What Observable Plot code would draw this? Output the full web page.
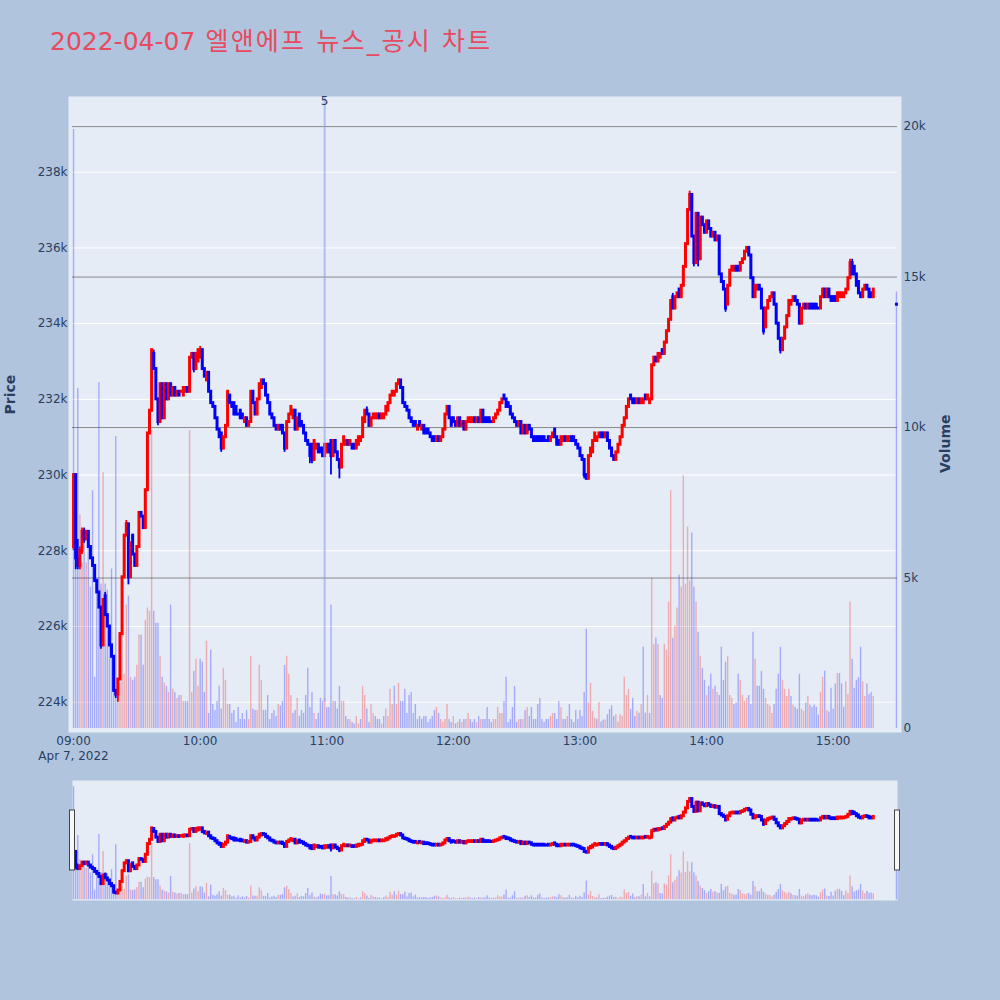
<!DOCTYPE html>
<html><head><meta charset="utf-8">
<script src="https://cdn.jsdelivr.net/npm/d3@7"></script>
<script src="https://cdn.jsdelivr.net/npm/@observablehq/plot@0.6"></script>
<style>
html,body{margin:0;padding:0;background:#b0c4de;}
#wrap{position:relative;width:1000px;height:1000px;overflow:hidden;font-family:"DejaVu Sans","Noto Sans CJK KR",sans-serif;}
#wrap .layer{position:absolute;left:0;top:0;}
#title{position:absolute;left:50px;top:29px;font-size:25px;line-height:1;color:#e84a5f;white-space:nowrap;}
#title .ko{letter-spacing:2.2px;}
</style></head><body><div id="wrap"><div id="title"></div></div>
<script>
const titleDate = "2022-04-07";
const titleText = " 엘앤에프 뉴스_공시 차트";
const tradeDay = [2022, 3, 7];           // year, month index, day
const dateLabel = "Apr 7, 2022";
const firstMinute = "09:00";             // one candle per minute from here
const closingAuction = "15:30";          // last candle
const hourTicks = ["09:00","10:00","11:00","12:00","13:00","14:00","15:00"];
const priceTicks = [224,226,228,230,232,234,236,238];   // k won
const volumeTicks = [0,5,10,15,20];                      // k shares
const priceDomain = [223.2, 240.0];
const volumeDomain = [-0.133, 21.0];
const news = [{time: "10:59", label: "5"}];

// prices in thousand won
const open = [
228.1,230.0,227.8,227.6,228.0,228.5,228.3,228.5,228.1,227.8,
227.6,227.2,226.9,226.5,225.5,226.8,226.3,226.0,225.5,225.2,
224.3,224.2,224.6,225.8,227.3,228.4,228.7,227.3,228.4,227.9,
227.6,228.1,229.0,228.9,228.6,229.6,231.1,231.7,233.2,232.8,
232.0,231.4,232.4,231.5,232.4,232.0,232.4,232.1,232.3,232.1,
232.2,232.2,232.1,232.2,232.3,232.2,233.1,233.2,232.8,233.0,
233.1,233.3,232.8,232.5,232.7,232.2,231.9,231.8,231.5,231.2,
231.1,230.7,231.0,231.3,232.1,231.9,231.9,231.8,231.6,231.7,
231.6,231.4,231.5,231.3,231.4,232.2,231.9,231.6,232.0,232.3,
232.5,232.4,232.1,231.9,231.6,231.5,231.3,231.2,231.3,231.3,
231.1,230.7,231.4,231.6,231.5,231.7,231.2,231.6,231.4,231.3,
231.1,230.9,230.8,230.8,230.4,230.7,230.8,230.7,230.7,230.5,
230.6,230.8,230.9,230.5,230.9,230.6,230.4,230.2,230.8,230.8,
230.9,230.8,230.8,230.8,230.7,230.8,230.9,231.0,231.4,231.7,
231.6,231.3,231.5,231.5,231.5,231.6,231.5,231.5,231.6,231.7,
231.9,232.1,232.1,232.2,232.4,232.5,232.3,231.9,231.8,231.7,
231.5,231.4,231.4,231.2,231.4,231.2,231.3,231.2,231.2,231.1,
231.0,231.0,230.9,231.0,230.9,231.0,231.2,231.6,231.8,231.5,
231.5,231.4,231.3,231.5,231.3,231.4,231.2,231.4,231.4,231.4,
231.5,231.4,231.5,231.4,231.7,231.5,231.5,231.5,231.4,231.4,
231.5,231.6,231.7,231.9,232.1,232.0,231.9,231.8,231.6,231.5,
231.4,231.3,231.4,231.1,231.3,231.1,231.3,231.2,231.0,231.0,
231.0,231.0,231.0,231.0,230.9,231.0,230.9,231.0,231.2,231.0,
230.9,230.8,230.9,231.0,230.9,230.9,231.0,231.0,230.9,230.8,
230.7,230.5,230.4,230.0,229.9,230.5,230.6,230.9,230.9,231.0,
231.1,231.1,231.0,231.1,230.9,230.7,230.5,230.4,230.6,230.8,
231.0,231.3,231.5,231.8,232.1,232.0,232.0,231.9,232.0,231.9,
231.9,232.1,232.0,231.9,232.0,232.9,233.1,233.0,233.1,233.3,
233.2,233.5,233.8,234.1,234.7,234.4,234.7,234.9,234.7,235.0,
235.5,236.1,237.0,237.4,236.3,235.6,236.9,235.7,236.8,236.6,
236.4,236.7,236.5,236.3,236.4,236.2,236.3,235.3,235.1,234.9,
234.5,235.0,235.4,235.4,235.5,235.5,235.4,235.6,235.7,235.9,
236.0,235.8,235.2,234.7,234.9,235.0,234.9,234.4,233.9,234.4,
234.6,234.7,234.8,234.5,234.0,233.6,233.3,233.6,233.9,234.2,
234.5,234.6,234.7,234.6,234.5,234.0,234.4,234.5,234.4,234.5,
234.5,234.5,234.5,234.4,234.4,234.7,234.9,234.7,234.9,234.7,
234.7,234.7,234.6,234.7,234.7,234.7,234.8,234.9,235.2,235.6,
235.5,235.3,235.1,234.8,234.7,234.9,235.0,234.9,234.8,234.7,
234.5];
const close = [
230.0,227.8,227.6,228.0,228.5,228.3,228.5,228.1,227.8,227.6,
227.2,226.9,226.5,225.5,226.7,226.3,226.0,225.5,225.2,224.3,
224.2,224.6,225.8,227.3,228.4,228.7,227.3,228.2,227.9,227.6,
228.1,229.0,228.9,228.6,229.6,231.1,231.7,233.3,232.8,232.0,
231.4,232.4,231.5,232.4,232.0,232.4,232.1,232.3,232.1,232.2,
232.1,232.2,232.3,232.3,232.2,233.1,233.2,232.8,233.2,233.3,
233.3,232.8,232.6,232.7,232.2,231.9,231.8,231.5,231.2,231.0,
230.7,231.0,231.3,232.2,231.9,231.8,231.6,231.6,231.6,231.5,
231.5,231.5,231.3,231.4,232.2,231.9,231.6,232.0,232.4,232.5,
232.4,232.1,231.9,231.6,231.5,231.3,231.2,231.3,231.2,231.1,
230.7,231.4,231.6,231.8,231.7,231.2,231.5,231.3,231.3,231.1,
230.9,230.8,230.5,230.4,230.9,230.8,230.6,230.6,230.5,230.8,
230.8,230.6,230.5,230.9,230.6,230.4,230.2,230.8,231.0,230.9,
230.8,230.9,230.7,230.7,230.9,231.0,231.0,231.5,231.7,231.6,
231.3,231.5,231.6,231.6,231.6,231.5,231.6,231.6,231.8,231.9,
232.1,232.2,232.2,232.4,232.5,232.3,231.9,231.8,231.7,231.5,
231.4,231.3,231.3,231.3,231.3,231.3,231.1,231.1,231.1,231.0,
230.9,230.9,231.0,230.9,231.0,231.2,231.6,231.8,231.5,231.3,
231.4,231.3,231.5,231.3,231.4,231.2,231.4,231.5,231.5,231.5,
231.4,231.5,231.4,231.7,231.4,231.4,231.4,231.4,231.4,231.5,
231.6,231.7,231.9,232.0,232.0,231.8,231.8,231.6,231.5,231.4,
231.3,231.4,231.1,231.3,231.1,231.3,231.2,231.0,230.9,230.9,
230.9,230.9,230.9,230.9,230.9,230.9,231.0,231.1,231.0,230.8,
230.8,231.0,231.0,230.9,231.0,231.0,230.9,230.9,230.8,230.7,
230.5,230.4,230.0,229.9,230.5,230.7,230.9,231.1,231.0,231.1,
231.0,231.0,231.1,230.9,230.7,230.5,230.4,230.6,230.8,231.0,
231.3,231.5,231.8,232.0,232.0,231.9,231.9,232.0,231.9,232.0,
232.0,232.0,232.1,232.0,232.9,233.1,233.0,233.2,233.2,233.2,
233.5,233.8,234.1,234.6,234.4,234.7,234.8,234.7,235.0,235.5,
236.1,237.0,237.4,236.3,235.6,236.9,235.7,236.8,236.6,236.4,
236.7,236.5,236.3,236.4,236.2,236.3,235.3,235.1,234.9,234.4,
235.0,235.4,235.5,235.5,235.4,235.4,235.6,235.7,235.9,236.0,
235.8,235.2,234.7,235.0,235.0,234.9,234.4,233.8,234.4,234.6,
234.7,234.8,234.5,234.0,233.6,233.3,233.6,233.9,234.2,234.6,
234.6,234.7,234.6,234.5,234.0,234.4,234.5,234.4,234.5,234.4,
234.4,234.4,234.4,234.4,234.7,234.9,234.7,234.9,234.7,234.6,
234.6,234.6,234.8,234.8,234.8,234.8,234.9,235.2,235.6,235.3,
235.3,235.0,234.8,234.7,234.9,235.0,234.9,234.7,234.7,234.9,
234.5];
// wick extremes beyond the candle body: [candle index, price]
const highWicks = [[2,228.3],[3,228.1],[4,228.6],[5,228.6],[15,226.9],[25,228.8],[38,233.3],[60,233.4],[139,231.8],[284,234.8],[292,237.5],[368,235.7],[369,235.7]];
const lowWicks = [[0,228.0],[1,227.5],[2,227.5],[3,227.5],[4,227.9],[5,228.2],[13,225.4],[20,224.1],[21,224.0],[26,227.1],[40,231.3],[57,232.7],[70,230.6],[100,230.6],[112,230.3],[113,230.3],[122,230.0],[126,229.9],[242,229.9],[294,235.5],[296,235.5],[309,234.3],[327,233.7],[335,233.2]];
// volume in thousand shares
const volume = [
19.9,6.0,11.3,7.1,5.5,6.6,5.5,6.0,4.7,7.9,
1.7,5.0,11.5,4.8,8.5,4.8,4.6,3.3,5.3,2.2,
9.7,1.5,1.5,3.3,1.8,4.1,4.4,1.7,1.6,1.7,
2.1,3.1,3.1,2.1,3.6,4.0,3.9,9.9,3.9,3.5,
3.5,2.4,1.7,1.5,1.4,1.2,4.1,1.3,1.2,1.0,
1.1,1.1,0.9,0.9,0.9,9.9,1.2,1.9,2.3,1.4,
2.3,2.2,1.2,2.9,0.5,2.6,0.8,0.6,0.9,1.4,
0.65,2.0,1.6,0.8,0.8,0.5,0.6,0.2,0.7,0.3,
0.5,0.3,0.6,0.3,2.4,0.65,0.6,0.6,2.1,1.6,
0.6,0.6,1.1,0.3,0.5,0.6,0.4,0.8,0.75,0.9,
2.1,2.4,1.8,1.1,0.5,0.6,1.0,0.4,0.6,0.5,
1.1,2.0,0.7,1.2,0.5,0.3,0.5,1.0,0.9,1.0,
0.7,0.7,4.1,0.9,0.9,0.65,1.4,0.9,0.9,0.4,
0.3,0.3,0.2,0.15,0.4,0.15,0.3,1.4,1.1,0.65,
0.2,0.8,0.5,0.4,0.3,0.3,0.15,0.4,0.65,0.4,
1.3,0.8,1.4,0.8,1.5,0.9,0.9,1.3,0.5,1.1,
1.2,0.5,0.8,0.3,0.4,0.3,0.4,0.4,0.2,0.3,
0.4,0.6,0.7,0.5,0.3,0.2,0.3,0.8,0.3,0.2,
0.4,0.15,0.2,0.3,0.2,0.3,0.3,0.5,0.3,0.2,
0.3,0.2,0.4,0.3,0.3,0.3,0.7,0.3,0.2,0.3,
0.3,0.7,0.5,0.5,0.9,1.7,0.2,0.3,0.7,1.4,
0.2,0.3,0.3,0.3,0.6,0.7,0.4,0.7,0.3,0.3,
0.8,1.0,0.3,0.2,0.3,0.3,0.4,0.5,0.5,0.3,
0.9,0.7,0.3,0.3,0.4,0.8,0.3,0.2,0.6,0.3,
0.6,0.4,1.2,3.3,0.86,1.5,0.57,0.34,0.3,0.86,
0.22,0.28,0.28,0.46,0.63,0.75,0.4,0.46,0.22,0.46,
0.4,1.7,1.1,1.3,0.63,1.0,0.4,0.57,0.51,0.8,
2.7,0.51,1.1,0.5,5.0,2.8,3.0,2.8,1.1,1.0,
2.8,2.6,4.2,7.9,3.0,3.4,4.0,5.1,4.7,8.4,
4.8,6.7,4.9,6.5,4.7,4.2,3.2,2.4,2.0,1.6,
1.1,1.4,1.8,1.3,1.4,1.2,1.1,2.7,1.6,2.2,
2.4,1.1,1.0,0.8,0.85,1.8,1.6,1.1,0.9,1.0,
1.1,0.8,3.2,2.3,1.4,1.4,1.9,1.3,1.0,0.8,
0.75,0.5,0.8,1.3,1.8,2.7,1.6,1.3,1.06,1.3,
1.06,0.78,0.71,0.64,1.8,0.64,0.57,0.85,1.06,0.78,
0.71,0.78,0.71,0.45,1.2,1.7,1.9,0.6,0.55,1.34,
0.64,1.48,1.83,1.83,1.48,0.71,1.55,1.13,4.2,2.3,
1.34,1.6,1.69,2.7,1.55,1.06,1.48,1.13,1.2,1.06,
14.5];

const UP = "#ff0000", DOWN = "#0000ff";
const FONT = '"DejaVu Sans","Noto Sans CJK KR",sans-serif';
const toTime = s => { const [h, m] = s.split(":").map(Number); return new Date(Date.UTC(tradeDay[0], tradeDay[1], tradeDay[2], h, m)); };
const n = open.length;
const times = d3.range(n).map(i => i < n - 1 ? d3.utcMinute.offset(toTime(firstMinute), i) : toTime(closingAuction));
const hw = new Map(highWicks), lw = new Map(lowWicks);
const candles = times.map((t, i) => {
  const o = open[i], c = close[i];
  const up = c > o || (c === o && i > 0 && c > close[i - 1]);
  return {t, o, c,
    h: Math.max(o, c, hw.has(i) ? hw.get(i) : -Infinity),
    l: Math.min(o, c, lw.has(i) ? lw.get(i) : Infinity),
    v: volume[i], up, volUp: i > 0 && c > close[i - 1]};
});
const xDomain = [d3.utcSecond.offset(times[0], -30), d3.utcSecond.offset(times[n - 1], 30)];
const dayLow = d3.min(candles, d => d.l);

const titleEl = document.getElementById("title");
titleEl.append(titleDate);
const ko = document.createElement("span"); ko.className = "ko"; ko.textContent = titleText; titleEl.appendChild(ko);
const wrap = document.getElementById("wrap");
function layer(opts) {
  const svg = Plot.plot({width: 1000, height: 1000,
    style: {background: "transparent", fontFamily: FONT, fontSize: "12px", color: "#2a3f5f", overflow: "visible"}, ...opts});
  const d = document.createElement("div"); d.className = "layer"; d.appendChild(svg); wrap.appendChild(d);
}
const mainM = {marginTop: 96, marginBottom: 268, marginLeft: 68, marginRight: 99};
const mainX = {type: "utc", domain: xDomain, insetLeft: 4, insetRight: 4, axis: null};
const sliderM = {marginTop: 780, marginBottom: 100, marginLeft: 72, marginRight: 103};
const sliderX = {type: "utc", domain: xDomain, axis: null};
const priceY = {domain: priceDomain, axis: null};
const volY = {domain: volumeDomain, axis: null};
const candleMarks = () => [
  Plot.ruleX(candles, {x: "t", y1: "l", y2: "h", stroke: d => d.up ? UP : DOWN, strokeWidth: 1.8}),
  Plot.ruleX(candles, {x: "t", y1: "o", y2: "c", stroke: d => d.up ? UP : DOWN, strokeWidth: 3, strokeLinecap: "square"})
];
const volumeMarks = () => [
  Plot.ruleX(candles, {x: "t", y1: 0, y2: "v", stroke: d => d.volUp ? UP : DOWN, strokeOpacity: 0.28, strokeWidth: 1.4})
];

// main: background, price grid and axes
layer({...mainM, x: mainX, y: priceY,
  marks: [
    Plot.frame({fill: "#e5ecf6", stroke: null}),
    Plot.gridY(priceTicks, {stroke: "white", strokeOpacity: 1, insetLeft: 4, insetRight: 4}),
    Plot.axisY(priceTicks, {tickSize: 0, tickPadding: 1, tickFormat: d => d + "k", label: null}),
    Plot.axisX(hourTicks.map(toTime), {tickSize: 0, tickPadding: 4, tickFormat: d3.utcFormat("%H:%M"), label: null}),
    Plot.text([dateLabel], {x: () => toTime(firstMinute), text: d => d, frameAnchor: "bottom", dy: 27, fill: "#2a3f5f"}),
    Plot.text(["Price"], {text: d => d, frameAnchor: "left", rotate: -90, dx: -58, fontSize: 14, fontWeight: "bold", fill: "#2a3f5f"})
  ]});
// main: volume grid, bars and right axis
layer({...mainM, x: mainX, y: volY,
  marks: [
    Plot.gridY(volumeTicks.filter(d => d > 0), {stroke: "#808080", strokeOpacity: 0.9, insetLeft: 4, insetRight: 4}),
    ...volumeMarks(),
    Plot.axisY(volumeTicks, {anchor: "right", tickSize: 0, tickPadding: 2, tickFormat: d => d === 0 ? "0" : d + "k", label: null}),
    Plot.text(["Volume"], {text: d => d, frameAnchor: "right", rotate: -90, dx: 44, fontSize: 14, fontWeight: "bold", fill: "#2a3f5f"})
  ]});
// main: candles and news marker
layer({...mainM, x: mainX, y: priceY,
  marks: [
    ...candleMarks(),
    Plot.ruleX(news, {x: d => toTime(d.time), y1: dayLow, y2: priceDomain[1], stroke: "#8c9ef0", strokeOpacity: 0.6, strokeWidth: 2}),
    Plot.text(news, {x: d => toTime(d.time), text: "label", frameAnchor: "top", fill: "#2a3f5f"})
  ]});
// range slider
layer({...sliderM, x: sliderX, y: volY,
  marks: [Plot.frame({fill: "#e5ecf6", stroke: null}), ...volumeMarks()]});
layer({...sliderM, x: sliderX, y: priceY,
  marks: [
    ...candleMarks(),
    Plot.rect(xDomain, {x1: d => d, x2: d => d, insetLeft: -2.5, insetRight: -2.5, insetTop: 30, insetBottom: 30, fill: "#f8f8f8", stroke: "#444", strokeWidth: 1})
  ]});
</script></body></html>
